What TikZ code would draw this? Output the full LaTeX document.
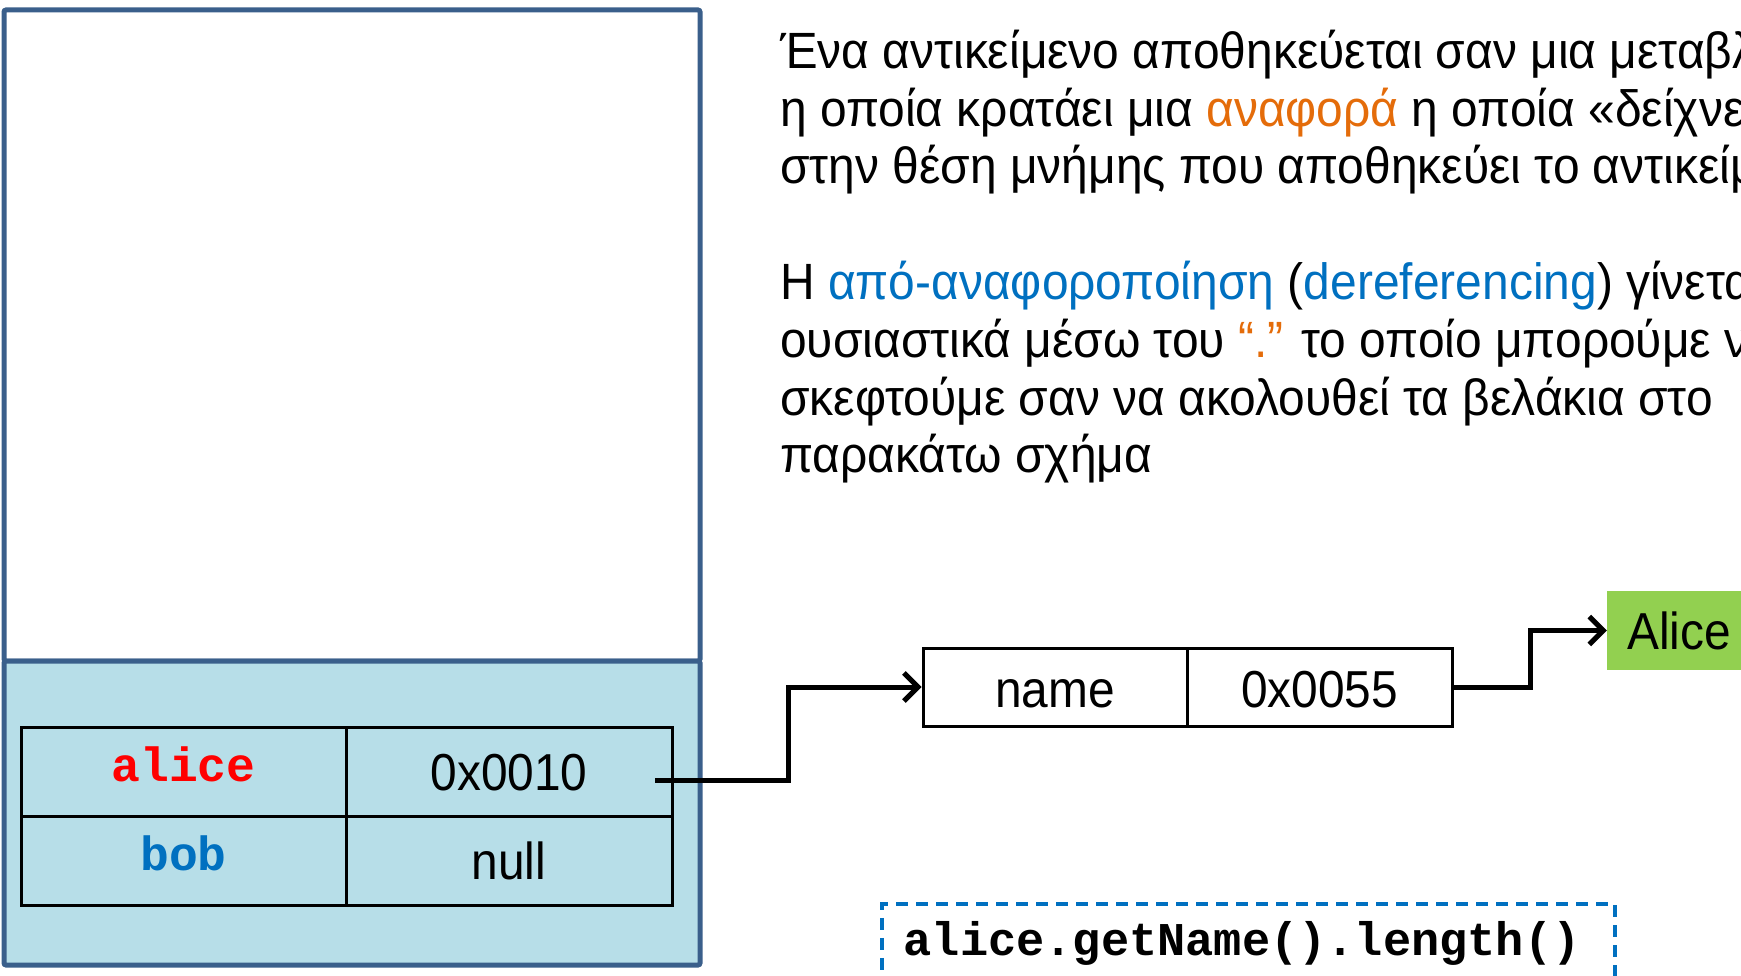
\documentclass[tikz,border=0pt]{standalone}
\usepackage{fontspec}
\setmainfont{Liberation Sans}[FakeStretch=0.92]
\setmonofont{Liberation Mono}
\newfontfamily\parafont{Liberation Sans}[FakeStretch=0.94]
\usetikzlibrary{arrows.meta,calc}
\definecolor{frameblue}{HTML}{3A5F8B}
\definecolor{stackfill}{HTML}{B7DEE8}
\definecolor{txtorange}{HTML}{E46C0A}
\definecolor{txtblue}{HTML}{0070C0}
\definecolor{txtred}{HTML}{FF0000}
\definecolor{boxgreen}{HTML}{92D050}
\begin{document}
\begin{tikzpicture}[x=1pt,y=-1pt,
  cell/.style={draw=black, line width=3pt, inner sep=0pt, minimum height=89pt,
    text height=38pt, text depth=0pt, font=\fontsize{52}{52}\selectfont},
  keycell/.style={cell, minimum width=325pt, text height=20pt,
    font=\fontsize{48}{48}\selectfont\ttfamily\bfseries},
  valcell/.style={cell, minimum width=326pt},
  objcell/.style={draw=black, line width=3pt, inner sep=0pt, minimum height=78pt,
    minimum width=264pt, text height=40pt, text depth=0pt, font=\fontsize{52}{52}\selectfont},
  para/.style={anchor=base west, inner sep=0pt, font=\parafont\fontsize{51}{58}\selectfont},
  arr/.style={line width=5pt, -{Straight Barb[length=14pt,width=28pt]}},
  codebox/.style={draw=txtblue, line width=3.5pt, dash pattern=on 12pt off 8pt,
    anchor=north west, minimum height=80pt, text width=689pt, inner xsep=22pt,
    align=left, font=\fontsize{47}{47}\selectfont\ttfamily\bfseries},
  strbox/.style={fill=boxgreen, inner sep=0pt, minimum width=144pt, minimum height=79pt,
    text height=38pt, text depth=0pt, font=\fontsize{52}{52}\selectfont}
]
\useasboundingbox (0,0) rectangle (1741,976);
\begin{scope}
\clip (0,0) rectangle (1741,976);
% stack frame
\draw[frameblue, line width=5pt, fill=white, rounded corners=2pt] (4,10) rectangle (700,661);
\draw[frameblue, line width=5pt, fill=stackfill, rounded corners=2pt] (4,661) rectangle (700,965);
% variable table
\node[keycell, text=txtred] (alicek) at (183.5,771.5) {alice};
\node[valcell] (alicev) at (509,771.5) {0x0010};
\node[keycell, text=txtblue] (bobk) at (183.5,860.5) {bob};
\node[valcell] (bobv) at (509,860.5) {null};
% object
\node[objcell] (namek) at (1055,687) {name};
\node[objcell, minimum width=265pt] (namev) at (1319.5,687) {0x0055};
\node[strbox] (alicestr) at (1679,630.5) {Alice};
% arrows
\coordinate (astart) at (655,780);
\draw[arr] (astart) -- (788,780) |- (namek.west);
\draw[arr] (namev.east) -- (1530,687) |- (alicestr.west);
% code
\node[codebox] (code) at (880,902) {alice.getName().length()};
% text
\node[para] (p1) at (780,69) {Ένα αντικείμενο αποθηκεύεται σαν μια μεταβλητή};
\node[para] (p2) at (780,126.5) {η οποία κρατάει μια \textcolor{txtorange}{αναφορά} η οποία «δείχνει»};
\node[para] (p3) at (780,184) {στην θέση μνήμης που αποθηκεύει το αντικείμενο};
\node[para] (p4) at (780,300) {Η \textcolor{txtblue}{από-αναφοροποίηση} (\textcolor{txtblue}{dereferencing}) γίνεται};
\node[para] (p5) at (780,357.5) {ουσιαστικά μέσω του \textcolor{txtorange}{“.”} το οποίο μπορούμε να};
\node[para] (p6) at (780,415) {σκεφτούμε σαν να ακολουθεί τα βελάκια στο};
\node[para] (p7) at (780,472.5) {παρακάτω σχήμα};
\end{scope}
\end{tikzpicture}
\end{document}
